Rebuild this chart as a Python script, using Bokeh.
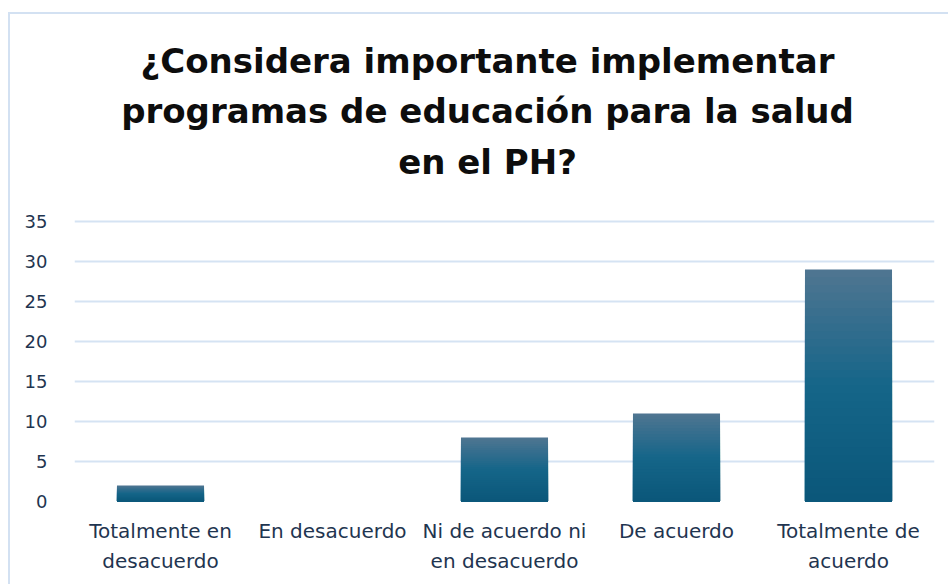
from bokeh.plotting import figure
from bokeh.models import Label, FixedTicker, Range1d
from bokeh.embed import file_html
from bokeh.resources import INLINE

categories = ["Totalmente en\ndesacuerdo", "En desacuerdo", "Ni de acuerdo ni\nen desacuerdo",
              "De acuerdo", "Totalmente de\nacuerdo"]
values = [2, 0, 8, 11, 29]
y_ticks = [0, 5, 10, 15, 20, 25, 30, 35]
title_lines = ["¿Considera importante implementar", "programas de educación para la salud", "en el PH?"]

W, H = 940, 572
# y range extends above the top tick so that the title sits inside the frame
p = figure(x_range=categories, y_range=Range1d(0, 60.875), width=W, height=H,
           output_backend="svg", toolbar_location=None,
           min_border_left=64, min_border_right=16, min_border_top=0, min_border_bottom=85)
p.styles = {"margin-left": "8px", "margin-top": "12px",
            "border-left": "2px solid #d3e1f2", "border-top": "2px solid #d3e1f2"}
p.outline_line_color = None
p.background_fill_color = "white"
p.border_fill_color = "white"

def lerp(c1, c2, t):
    a = [int(c1[i:i+2], 16) for i in (1, 3, 5)]
    b = [int(c2[i:i+2], 16) for i in (1, 3, 5)]
    return "#%02x%02x%02x" % tuple(round(a[k] + (b[k] - a[k]) * t) for k in range(3))

# gradient bars: nested bars, each shorter one drawn on top in a darker shade
N = 30
c_top, c_mid, c_bot = "#4e7591", "#156589", "#0b577a"
for i in range(N):
    frac = 1 - i / N
    t = i / (N - 1)
    col = lerp(c_top, c_mid, t / 0.5) if t < 0.5 else lerp(c_mid, c_bot, (t - 0.5) / 0.5)
    p.vbar(x=categories, bottom=0, top=[v * frac for v in values],
           width=0.506, fill_color=col, line_color=None)

p.yaxis.ticker = FixedTicker(ticks=y_ticks)
p.ygrid.grid_line_color = "#d5e3f3"
p.ygrid.grid_line_width = 2
p.ygrid.level = "underlay"
p.xgrid.grid_line_color = None

for ax in (p.xaxis, p.yaxis):
    ax.axis_line_color = None
    ax.major_tick_line_color = None
    ax.minor_tick_line_color = None
    ax.major_tick_out = 0
    ax.major_tick_in = 0
    ax.major_label_text_font = "DejaVu Sans"
    ax.major_label_text_color = "#1f3550"

p.xaxis.major_label_text_font_size = "20px"
p.yaxis.major_label_text_font_size = "18px"
p.yaxis.major_label_standoff = 27
p.xaxis.major_label_standoff = 17
p.xaxis.major_label_text_line_height = 1.25

ys = [441, 391, 340]
for txt, y in zip(title_lines, ys):
    p.add_layout(Label(x=413, y=y, x_units="screen", y_units="screen", text=txt,
                       text_align="center", text_baseline="alphabetic",
                       text_font="DejaVu Sans", text_font_style="bold",
                       text_font_size="34px", text_color="#0d0d0d"))

open("out.html", "w").write(file_html(p, INLINE))
